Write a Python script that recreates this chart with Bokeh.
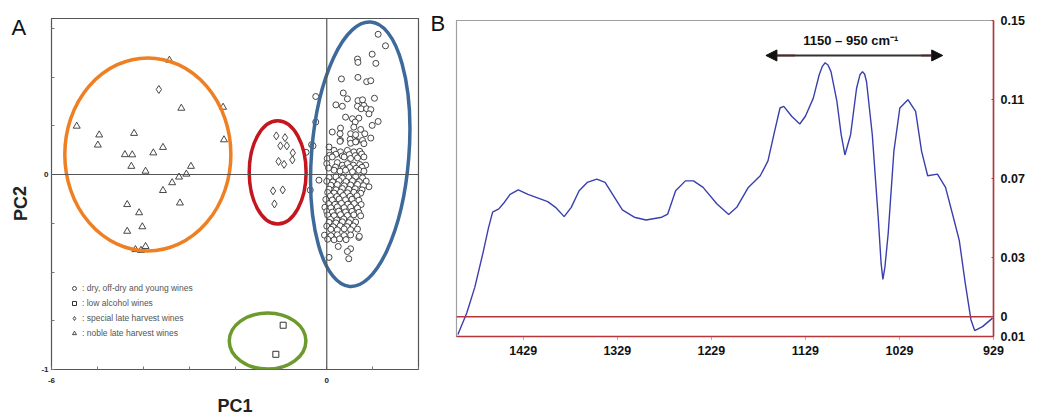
import math
from bokeh.plotting import figure
from bokeh.layouts import row
from bokeh.models import (Range1d, FixedTicker, Span, Label, Legend, LegendItem,
                          Arrow, NormalHead)
from bokeh.core.properties import value
from bokeh.embed import file_html
from bokeh.resources import INLINE

# ---------------- Panel A data (PCA scores) ----------------
noble_x = [-3.43, -3.17, -2.26, -5.45, -4.96, -4.99, -4.20, -2.24, -3.57, -3.78, -4.40, -4.24,
           -4.26, -3.95, -2.96, -3.06, -3.22, -3.37, -3.57, -3.20, -4.35, -4.09, -4.02, -4.35,
           -4.17, -4.05, -3.95]
noble_y = [0.586, 0.340, 0.345, 0.248, 0.203, 0.151, 0.211, 0.178, 0.139, 0.111, 0.102, 0.101,
           0.042, 0.017, 0.042, 0.002, -0.013, -0.042, -0.082, -0.146, -0.154, -0.196, -0.268, -0.291,
           -0.385, -0.389, -0.369]

special_x = [-3.66, -1.10, -0.91, -1.01, -0.87, -0.74, -0.75, -1.05, -0.93, -1.17, -0.96, -1.14]
special_y = [0.436, 0.198, 0.189, 0.147, 0.147, 0.111, 0.075, 0.067, 0.052, -0.084, -0.079, -0.151]

low_x = [-0.95, -1.11]
low_y = [-0.773, -0.922]

dry_x = [1.12, 1.28, 0.99, 0.67, 0.68, 1.07, 0.32, 0.68, 0.87, 0.96, -0.24, 0.36, 0.45, 0.68, 0.78, 1.04,
         0.20, 0.34, 0.67, 0.81, 0.75, 0.87, 0.96, 0.92, 0.41, 0.56, 0.70, 0.62, 1.12, 0.99, -0.24, 0.30,
         0.59, 0.74, 0.12, 0.29, 0.52, 0.63, 0.83, 0.96, 0.30, 0.51, 0.65, 0.78,
         -0.33, 0.29, 0.52, 0.63, 0.81, 0.05, 0.16, 0.30, 0.45, 0.59, 0.72,
         0.06, 0.20, 0.34, 0.49, 0.62, 0.76,
         0.01, 0.12, 0.38, 0.52, 0.67, 0.81,
         0.00, 0.23, 0.34, 0.45, 0.58, 0.72, 0.85,
         0.04, 0.19, 0.36, 0.50, 0.64, 0.77,
         0.16, 0.29, 0.41, 0.56, 0.70, 0.81,
         -0.17, 0.92,
         0.05, 0.20, 0.34, 0.48, 0.63, 0.78,
         0.00, 0.13, 0.27, 0.42, 0.56, 0.71, 0.86,
         0.09, 0.23, 0.38, 0.52, 0.67, 0.80,
         0.05, 0.20, 0.34, 0.48, 0.62, 0.77,
         0.02, 0.16, 0.30, 0.45, 0.59, 0.74,
         0.08, 0.22, 0.36, 0.51, 0.66,
         -0.02, 0.12, 0.27, 0.41, 0.55, 0.70,
         0.04, 0.18, 0.32, 0.46, 0.60, 0.75,
         -0.04, 0.09, 0.23, 0.38, 0.52, 0.67,
         0.00, 0.12, 0.26, 0.41, 0.55, 0.70,
         0.02, 0.16, 0.30, 0.45, 0.59, 0.74,
         0.08, 0.22, 0.37, 0.52,
         0.05, 0.20, 0.34, 0.48, 0.63,
         0.00, 0.14, 0.29, 0.44, 0.58,
         0.09, 0.23, 0.38, 0.52, 0.67,
         -0.05, 0.09, 0.23, 0.38, 0.52,
         0.02, 0.16, 0.28, 0.42, 0.70,
         0.25, 0.52, 0.45, 0.48, 0.05, 0.71,
         -0.45, -0.36, -0.30]
dry_y = [0.719, 0.660, 0.617, 0.592, 0.575, 0.570, 0.490, 0.498, 0.476, 0.481, 0.400, 0.418, 0.388, 0.379, 0.383, 0.391,
         0.357, 0.350, 0.350, 0.354, 0.337, 0.337, 0.333, 0.311, 0.294, 0.286, 0.289, 0.269, 0.272, 0.252, 0.269, 0.238,
         0.243, 0.231, 0.218, 0.209, 0.209, 0.204, 0.209, 0.187, 0.175, 0.180, 0.170, 0.175,
         0.153, 0.170, 0.160, 0.167, 0.158, 0.141, 0.124, 0.116, 0.124, 0.116, 0.119,
         0.098, 0.104, 0.095, 0.102, 0.097, 0.105,
         0.082, 0.090, 0.090, 0.082, 0.085, 0.090,
         0.056, 0.061, 0.048, 0.056, 0.048, 0.051, 0.048,
         0.033, 0.038, 0.030, 0.036, 0.032, 0.037,
         0.022, 0.017, 0.022, 0.014, 0.022, 0.017,
         -0.029, -0.063,
         -0.015, -0.012, -0.018, -0.014, -0.011, -0.017,
         -0.035, -0.038, -0.032, -0.036, -0.033, -0.037, -0.034,
         -0.055, -0.052, -0.058, -0.054, -0.051, -0.057,
         -0.075, -0.078, -0.072, -0.076, -0.073, -0.079,
         -0.092, -0.095, -0.090, -0.094, -0.091, -0.096,
         -0.110, -0.113, -0.108, -0.112, -0.109,
         -0.128, -0.131, -0.126, -0.130, -0.127, -0.132,
         -0.150, -0.153, -0.148, -0.152, -0.149, -0.154,
         -0.168, -0.171, -0.166, -0.170, -0.167, -0.172,
         -0.190, -0.193, -0.188, -0.192, -0.189, -0.194,
         -0.208, -0.211, -0.206, -0.210, -0.207, -0.212,
         -0.230, -0.233, -0.228, -0.232,
         -0.245, -0.248, -0.243, -0.247, -0.244,
         -0.265, -0.268, -0.263, -0.267, -0.264,
         -0.281, -0.284, -0.279, -0.283, -0.280,
         -0.311, -0.314, -0.309, -0.313, -0.310,
         -0.332, -0.335, -0.330, -0.334, -0.323,
         -0.369, -0.381, -0.395, -0.432, -0.425, -0.317,
         0.114, -0.080, 0.147]

# group ellipses: orange (noble), red (special), blue (dry), green (low alcohol)
ell_x = [-3.90, -1.07, 0.73, -1.29]
ell_y = [0.103, 0.011, 0.104, -0.854]
ell_w = [3.62, 1.24, 2.12, 1.67]
ell_h = [0.99, 0.53, 1.36, 0.288]
ell_angle = [0.0, 0.0, -0.08, 0.0]
ell_colors = ["#ee7f22", "#c3161f", "#3d6a9b", "#6d9a2d"]

legend_labels = [": dry, off-dry and young wines", ": low alcohol wines",
                 ": special late harvest wines", ": noble late harvest wines"]

pc1_ticks = [-6, -5, -4, -3, -2, -1, 0, 1, 2]
pc2_ticks = [-1, -0.75, -0.5, -0.25, 0, 0.25, 0.5, 0.75]

# ---------------- Panel B data (spectrum) ----------------
wavenumber = [1498.5, 1489, 1480.5, 1472, 1466, 1461.6, 1455, 1449, 1443, 1434.4, 1424, 1403,
              1394.7, 1385.5, 1378, 1369.6, 1361, 1350.8, 1342, 1332, 1323.6, 1311, 1298.5, 1281.7,
              1275.4, 1267, 1256.6, 1248, 1237.8, 1223, 1210.6, 1202, 1189.7, 1177, 1168.8, 1162.5,
              1156, 1152, 1143.6, 1135, 1129, 1120.6, 1114.4, 1111, 1108, 1105, 1101.8, 1095.5, 1091,
              1087, 1080.9, 1074.6, 1071, 1068.3, 1066, 1064, 1057.9, 1051.6, 1048.5, 1046.6, 1044.5,
              1041, 1034.9, 1028.6, 1020, 1011.8, 1005.5, 999, 988.6, 980, 971.7, 965.4, 959, 953,
              949, 940.7, 930]
absorbance = [-0.009, 0.002, 0.015, 0.032, 0.045, 0.053, 0.0546, 0.058, 0.062, 0.0642, 0.062, 0.0583,
              0.0554, 0.0507, 0.0554, 0.0638, 0.068, 0.0697, 0.068, 0.0605, 0.0541, 0.0504, 0.049, 0.0504,
              0.052, 0.0638, 0.0688, 0.0688, 0.0655, 0.0571, 0.0518, 0.0554, 0.0655, 0.0714, 0.0789, 0.0923,
              0.1057, 0.1065, 0.1015, 0.0976, 0.1015, 0.1107, 0.1224, 0.1268, 0.1286, 0.1275, 0.1241, 0.109, 0.0923,
              0.0819, 0.0923, 0.1157, 0.1225, 0.1241, 0.1228, 0.119, 0.0923, 0.0504, 0.027, 0.0189, 0.025,
              0.042, 0.0839, 0.1057, 0.1099, 0.104, 0.0839, 0.0714, 0.0722, 0.0655, 0.0504, 0.0387, 0.0169, -0.0015,
              -0.007, -0.005, -0.0007]

wn_ticks = [1429, 1329, 1229, 1129, 1029, 929]
abs_ticks = [-0.01, 0, 0.03, 0.07, 0.11, 0.15]
abs_tick_labels = {-0.01: "0.01", 0: "0", 0.03: "0.03", 0.07: "0.07", 0.11: "0.11", 0.15: "0.15"}

band_start, band_end = 1171, 983
band_label = "1150 \u2013 950 cm\u207b\u00b9"

FONT = "Liberation Sans"
RED = "#b8363a"


def strip(width):
    s = figure(width=width, height=418, x_range=Range1d(0, width), y_range=Range1d(0, 418),
               output_backend="svg", toolbar_location=None,
               min_border_left=0, min_border_right=0, min_border_top=0, min_border_bottom=0)
    s.frame_align = False
    s.axis.visible = False
    s.grid.visible = False
    s.outline_line_color = None
    return s


# ================= left strip: panel letter A + PC2 title =================
pLA = strip(38)
pLA.text(x=[11], y=[404], text=["A"], text_font=value(FONT), text_font_size="22px",
         text_color="#111111", text_baseline="top", text_align="left")
pLA.text(x=[20], y=[215], text=["PC2"], angle=[math.pi / 2], text_font=value(FONT),
         text_font_size="18px", text_font_style="bold", text_color="#222222",
         text_baseline="middle", text_align="center")

# ================= Panel A =================
pA = figure(width=387, height=418, x_range=Range1d(-6, 2), y_range=Range1d(-1, 0.8),
            output_backend="svg", toolbar_location=None,
            min_border_left=12, min_border_right=7, min_border_top=18, min_border_bottom=45)
pA.frame_align = False
pA.grid.visible = False
pA.outline_line_color = "#555555"
pA.outline_line_width = 1.2
pA.background_fill_color = "white"

pA.add_layout(Span(location=0, dimension="height", line_color="#555555", line_width=1.2))
pA.add_layout(Span(location=0, dimension="width", line_color="#555555", line_width=1.2))

r_dry = pA.scatter(dry_x, dry_y, marker="circle", size=6, fill_color="white",
                   line_color="#333333", line_width=0.9)
r_special = pA.scatter(special_x, special_y, marker="diamond", size=8, fill_color="white",
                       line_color="#333333", line_width=0.9)
r_low = pA.scatter(low_x, low_y, marker="square", size=6, fill_color="white",
                   line_color="#333333", line_width=1.0)
r_noble = pA.scatter(noble_x, noble_y, marker="triangle", size=7, fill_color="white",
                     line_color="#333333", line_width=0.9)

pA.ellipse(x=ell_x, y=ell_y, width=ell_w, height=ell_h, angle=ell_angle,
           fill_color=None, line_color=ell_colors, line_width=3.5)

pA.xaxis.ticker = FixedTicker(ticks=pc1_ticks)
pA.xaxis.major_label_overrides = {t: ("" if t not in (-6, 0) else str(t)) for t in pc1_ticks}
pA.yaxis.ticker = FixedTicker(ticks=pc2_ticks)
pA.yaxis.major_label_overrides = {t: ("" if t not in (-1, 0) else str(int(t))) for t in pc2_ticks}
for ax in (pA.xaxis, pA.yaxis):
    ax.axis_line_color = None
    ax.major_tick_in = 3
    ax.major_tick_out = 0
    ax.major_tick_line_color = "#777777"
    ax.minor_tick_line_color = None
    ax.major_label_text_font = FONT
    ax.major_label_text_font_style = "bold"
    ax.major_label_text_font_size = "8px"
    ax.major_label_text_color = "#222222"
    ax.axis_label_text_font = FONT
    ax.axis_label_text_font_style = "bold"
    ax.axis_label_text_font_size = "18px"
    ax.axis_label_text_color = "#222222"
pA.xaxis.axis_label = "PC1"
pA.xaxis.major_label_standoff = 8
pA.xaxis.axis_label_standoff = 10
pA.yaxis.major_label_standoff = 3

legend = Legend(items=[LegendItem(label=legend_labels[0], renderers=[r_dry]),
                       LegendItem(label=legend_labels[1], renderers=[r_low]),
                       LegendItem(label=legend_labels[2], renderers=[r_special]),
                       LegendItem(label=legend_labels[3], renderers=[r_noble])],
                location=(18, 30), border_line_color=None, background_fill_alpha=0,
                label_text_font=FONT, label_text_font_size="8.5px", label_text_color="#555555",
                glyph_width=10, glyph_height=10, label_height=12, label_standoff=3,
                spacing=3, padding=2, margin=0)
pA.add_layout(legend)

# ================= letter strip for panel B =================
pLB = strip(25)
pLB.text(x=[5], y=[408], text=["B"], text_font=value(FONT), text_font_size="22px",
         text_color="#111111", text_baseline="top", text_align="left")

# ================= Panel B =================
pB = figure(width=588, height=418, x_range=Range1d(1500, 929), y_range=Range1d(-0.01, 0.15),
            output_backend="svg", toolbar_location=None, y_axis_location="right",
            min_border_left=6, min_border_right=45, min_border_top=20, min_border_bottom=82)
pB.frame_align = False
pB.grid.visible = False
pB.outline_line_color = "#a0a0a0"
pB.outline_line_width = 1.2

pB.line(wavenumber, absorbance, line_color="#3a3fae", line_width=1.4)

pB.add_layout(Span(location=0, dimension="width", line_color=RED, line_width=1.6))

pB.xaxis.ticker = FixedTicker(ticks=wn_ticks)
pB.yaxis.ticker = FixedTicker(ticks=abs_ticks)
pB.yaxis.major_label_overrides = abs_tick_labels
for ax in (pB.xaxis, pB.yaxis):
    ax.axis_line_color = RED
    ax.axis_line_width = 1.6
    ax.major_tick_line_color = RED
    ax.minor_tick_line_color = None
    ax.major_label_text_font = FONT
    ax.major_label_text_font_style = "bold"
    ax.major_label_text_font_size = "12.5px"
    ax.major_label_text_color = "#111111"
pB.xaxis.major_tick_in = 0
pB.xaxis.major_tick_out = 3
pB.xaxis.major_tick_line_dash = "1 1"
pB.xaxis.major_label_standoff = 6
pB.yaxis.major_tick_in = 2
pB.yaxis.major_tick_out = 0
pB.yaxis.major_label_standoff = 7

pB.add_layout(Arrow(start=NormalHead(size=11, fill_color="#111111", line_color="#111111"),
                    end=NormalHead(size=11, fill_color="#111111", line_color="#111111"),
                    x_start=band_start, y_start=0.1323, x_end=band_end, y_end=0.1323,
                    line_color="#333333", line_width=2))
pB.segment(x0=[1162, 1006], y0=[0.1323, 0.1323], x1=[1140, 989], y1=[0.1323, 0.1323],
           line_color="#a85a55", line_width=2)
pB.add_layout(Label(x=1080.7, y=0.1399, text=band_label, text_font=FONT,
                    text_font_style="bold", text_font_size="13px", text_color="#111111",
                    text_align="center", text_baseline="middle"))

layout = row(pLA, pA, pLB, pB)
open("out.html", "w").write(file_html(layout, INLINE))
